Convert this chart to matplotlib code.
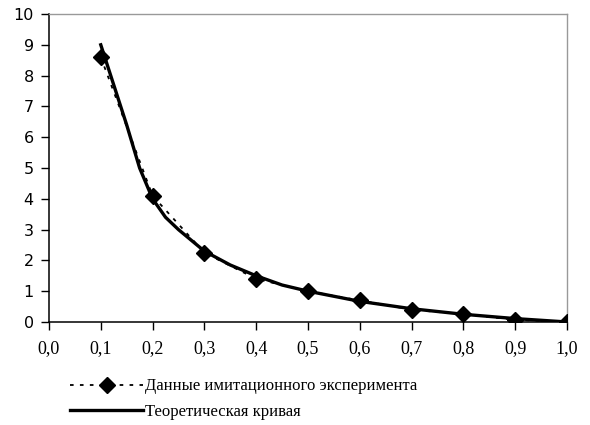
import matplotlib.pyplot as plt
from matplotlib.ticker import FuncFormatter

x_exp = [0.1, 0.2, 0.3, 0.4, 0.5, 0.6, 0.7, 0.8, 0.9, 1.0]
y_exp = [8.6, 4.1, 2.25, 1.4, 1.0, 0.7, 0.4, 0.25, 0.07, 0.0]

# theoretical curve
x_theory = [0.10, 0.125, 0.15, 0.175, 0.20, 0.225, 0.25, 0.30, 0.35, 0.40,
            0.45, 0.50, 0.60, 0.70, 0.80, 0.90, 1.00]
y_theory = [9.0, 7.7, 6.4, 5.0, 4.0, 3.4, 3.0, 2.3, 1.85, 1.5,
            1.2, 1.0, 0.67, 0.43, 0.25, 0.11, 0.0]

label_exp = 'Данные имитационного эксперимента'
label_theory = 'Теоретическая кривая'

x_ticks = [i / 10 for i in range(11)]
y_ticks = list(range(11))

fig = plt.figure(figsize=(5.9, 4.25), dpi=100)
ax = fig.add_axes([0.083, 0.2424, 0.878, 0.7246])

ax.plot(x_exp, y_exp, color='black', linestyle=(0, (2, 3.5)), linewidth=1.3,
        marker='D', markersize=8, label=label_exp, zorder=3)
ax.plot(x_theory, y_theory, color='black', linewidth=2.4, label=label_theory, zorder=2)

ax.set_xlim(0, 1.0)
ax.set_ylim(0, 10)
ax.set_xticks(x_ticks)
ax.set_yticks(y_ticks)
ax.xaxis.set_major_formatter(FuncFormatter(lambda v, p: f'{v:.1f}'.replace('.', ',')))

for lbl in ax.get_xticklabels():
    lbl.set_fontfamily('Liberation Serif')
    lbl.set_fontsize(13)
for lbl in ax.get_yticklabels():
    lbl.set_fontfamily('DejaVu Sans')
    lbl.set_fontsize(11.5)

ax.tick_params(direction='out', length=6, width=1, colors='black')
ax.tick_params(axis='x', pad=7)
ax.tick_params(axis='y', pad=5)
for side in ['left', 'bottom']:
    ax.spines[side].set_color('black')
    ax.spines[side].set_linewidth(1.1)
for side in ['top', 'right']:
    ax.spines[side].set_color('#999999')
    ax.spines[side].set_linewidth(1.0)

fig.legend(loc='upper left', bbox_to_anchor=(0.093, 0.145), frameon=False,
           handlelength=4.4, handletextpad=0.1, labelspacing=0.55,
           prop={'family': 'Liberation Serif', 'size': 12})

fig.savefig('out.png', dpi=100)
